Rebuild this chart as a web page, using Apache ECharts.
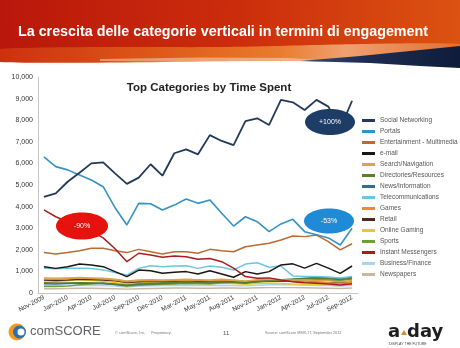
<!DOCTYPE html>
<html>
<head>
<meta charset="utf-8">
<script src="https://cdn.jsdelivr.net/npm/echarts/dist/echarts.min.js"></script>
<style>
html,body{margin:0;padding:0;background:#fff;}
#c{width:460px;height:348px;}
</style>
</head>
<body>
<div id="c"></div>
<script>
const months = ["Nov-2009","Dec-2009","Jan-2010","Mar-2010","Apr-2010","May-2010","Jul-2010","Aug-2010","Sep-2010","Oct-2010","Dec-2010","Jan-2011","Mar-2011","Apr-2011","May-2011","Jul-2011","Aug-2011","Oct-2011","Nov-2011","Dec-2011","Jan-2012","Mar-2012","Apr-2012","May-2012","Jul-2012","Aug-2012","Sep-2012"];

const socialNetworking = [4450,4610,5150,5570,6000,6050,5540,5050,5340,5960,5430,6470,6650,6420,7310,7040,6850,7960,8090,7780,8940,8830,8470,8940,8630,7600,8900];
const portals = [6300,5850,5700,5460,5230,4920,3950,3150,4150,4130,3840,4070,4350,4150,4310,3690,3100,3530,3300,2840,3200,3410,2840,2700,2550,2220,3000];
const entertainment = [1870,1810,1870,1960,2070,2070,1960,1870,2020,1910,1810,1910,1910,1840,2020,1960,1910,2140,2220,2300,2450,2640,2610,2680,2380,2000,2280];
const email = [1220,1140,1220,1340,1300,1220,990,760,1060,1030,910,960,990,880,1030,880,730,990,880,990,1300,1350,1150,1370,1150,910,1250];
const searchNavigation = [700,680,700,720,700,680,640,560,600,620,600,620,640,620,600,640,600,560,620,640,620,600,600,580,560,520,580];
const directories = [480,460,470,480,470,450,420,360,420,440,460,470,490,480,470,500,480,460,520,560,600,640,660,680,660,620,680];
const newsInformation = [430,420,440,460,450,430,400,350,410,430,440,460,480,470,460,500,500,480,540,580,620,640,680,720,700,660,740];
const telecommunications = [1150,1120,1150,1150,1130,1070,950,830,1140,1260,1220,1250,1260,1140,1250,1190,1065,1340,1400,1190,1250,790,760,760,740,700,760];
const games = [650,630,660,690,670,640,600,520,560,580,560,580,600,580,560,580,560,520,580,600,580,560,540,500,480,440,500];
const retail = [600,580,600,630,620,600,560,480,520,540,520,540,560,540,520,540,520,480,540,560,540,540,520,500,480,460,500];
const onlineGaming = [560,540,560,620,580,540,480,420,460,480,440,460,480,460,440,480,440,400,440,460,440,420,400,380,360,340,380];
const sports = [300,300,320,380,420,460,380,320,360,380,400,420,440,430,420,460,460,440,500,540,560,580,600,620,600,580,640];
const instantMessengers = [3850,3530,3300,3080,2850,2550,2050,1450,1840,1760,1650,1710,1680,1560,1600,1450,1150,760,680,700,600,520,480,450,420,370,430];
const businessFinance = [350,340,350,360,350,340,320,280,320,330,340,350,360,350,340,360,350,330,360,380,380,380,360,350,340,320,350];
const newspapers = [200,200,210,220,220,210,200,180,200,210,220,230,230,220,220,230,230,220,240,250,250,250,240,230,220,210,230];

const seriesNames = ["Social Networking","Portals","Entertainment - Multimedia","e-mail","Search/Navigation","Directories/Resources","News/Information","Telecommunications","Games","Retail","Online Gaming","Sports","Instant Messengers","Business/Finance","Newspapers"];
const seriesValues = [socialNetworking,portals,entertainment,email,searchNavigation,directories,newsInformation,telecommunications,games,retail,onlineGaming,sports,instantMessengers,businessFinance,newspapers];
const seriesColors = ["#22395a","#3592c4","#bb6a34","#1a1614","#d6a64c","#5d7d2a","#2f6e98","#6cc6e2","#e68c36","#4b2a1b","#ebc92a","#6f9e34","#a81e1e","#a9d3ec","#c9b79d"];
const seriesWidths = [1.8,1.6,1.5,1.5,1.4,1.4,1.4,1.5,1.4,1.4,1.4,1.4,1.5,1.4,1.4];

const chart = echarts.init(document.getElementById('c'));
const FONT = '"Liberation Sans", Arial, sans-serif';

const order = [14,13,11,10,9,8,6,5,4,7,3,2,12,1,0];
const series = order.map(i => ({
  name: seriesNames[i],
  type: 'line',
  data: seriesValues[i],
  showSymbol: false,
  symbol: 'none',
  color: seriesColors[i],
  lineStyle: {width: seriesWidths[i], color: seriesColors[i]},
  silent: true,
  animation: false
}));

chart.setOption({
  animation: false,
  backgroundColor: '#ffffff',
  textStyle: {fontFamily: FONT},
  title: {
    text: 'Top Categories by Time Spent',
    left: 204, top: 77, textAlign: 'center',
    textStyle: {fontSize: 11.5, fontWeight: 'bold', color: '#222', fontFamily: FONT}
  },
  grid: {left: 38, top: 77, width: 320, height: 216, containLabel: false, outerBoundsMode: 'none'},
  legend: {
    data: seriesNames,
    orient: 'vertical',
    left: 362, top: 117,
    icon: 'rect',
    itemWidth: 13, itemHeight: 3,
    itemGap: 4,
    padding: 0,
    selectedMode: false,
    textStyle: {fontSize: 6.5, color: '#555', lineHeight: 7, fontFamily: FONT}
  },
  xAxis: {
    type: 'category',
    data: months,
    boundaryGap: true,
    axisLine: {show: true, lineStyle: {color: '#c4c4c4', width: 1}},
    axisTick: {show: false},
    axisLabel: {interval: 1, rotate: 28, fontSize: 6.5, color: '#333', margin: 4, fontFamily: FONT}
  },
  yAxis: {
    type: 'value',
    min: 0, max: 10000, interval: 1000,
    name: 'Tot. Time Spent (MM Minutes)',
    nameLocation: 'middle',
    nameGap: 31,
    nameRotate: 90,
    nameTextStyle: {fontSize: 6, color: '#333', fontFamily: FONT},
    axisLine: {show: true, lineStyle: {color: '#c4c4c4', width: 1}},
    axisTick: {show: false},
    splitLine: {show: false},
    axisLabel: {
      fontSize: 7, color: '#333', margin: 5, fontFamily: FONT,
      formatter: v => v.toLocaleString('en-US')
    }
  },
  series: series,
  graphic: [
    {type: 'rect', z: 1, silent: true, shape: {x: 0, y: 0, width: 460, height: 54},
     style: {fill: new echarts.graphic.LinearGradient(0, 0, 1, 0.3, [
       {offset: 0, color: '#b9170b'}, {offset: 0.5, color: '#cb2c0c'}, {offset: 1, color: '#dc5211'}])}},
    {type: 'polygon', z: 2, silent: true,
     shape: {points: [[0,49],[230,47],[460,44],[460,60],[250,61],[0,62]], smooth: 0.2},
     style: {fill: new echarts.graphic.LinearGradient(0, 0, 1, 0, [
       {offset: 0, color: '#cc3010'}, {offset: 0.35, color: '#de5a18'}, {offset: 0.6, color: '#ea7a2c'}, {offset: 0.75, color: '#f0a070'}, {offset: 1, color: '#e07030'}])}},
    {type: 'polygon', z: 2, silent: true,
     shape: {points: [[100,59],[200,57.5],[290,58],[330,61],[200,62],[100,61]]},
     style: {fill: 'rgba(255,235,215,0.45)'}},
    {type: 'polygon', z: 3, silent: true,
     shape: {points: [[300,61],[360,56],[420,50],[460,46],[460,68],[420,66],[370,63]]},
     style: {fill: new echarts.graphic.LinearGradient(0, 0, 1, 0, [
       {offset: 0, color: '#3a4c70'}, {offset: 0.4, color: '#1d2d52'}, {offset: 1, color: '#0f1c3a'}])}},
    {type: 'text', z: 5, silent: true, left: 18, top: 25,
     style: {text: 'La crescita delle categorie verticali in termini di engagement', fill: '#ffffff',
       font: 'bold 14.3px "Liberation Sans", Arial, sans-serif'}},

    {type: 'ellipse', z: 50, silent: true, shape: {cx: 330, cy: 122, rx: 25, ry: 13},
     style: {fill: '#1d3c66'}},
    {type: 'text', z: 51, silent: true, x: 330, y: 122,
     style: {text: '+100%', fill: '#fff', align: 'center', verticalAlign: 'middle', font: '7px "Liberation Sans", Arial, sans-serif'}},
    {type: 'ellipse', z: 50, silent: true, shape: {cx: 82, cy: 226, rx: 26, ry: 13.5},
     style: {fill: '#e5120e'}},
    {type: 'text', z: 51, silent: true, x: 82, y: 226,
     style: {text: '-90%', fill: '#fff', align: 'center', verticalAlign: 'middle', font: '7px "Liberation Sans", Arial, sans-serif'}},
    {type: 'ellipse', z: 50, silent: true, shape: {cx: 329, cy: 221, rx: 25, ry: 12.5},
     style: {fill: '#1f8ad6'}},
    {type: 'text', z: 51, silent: true, x: 329, y: 221,
     style: {text: '-53%', fill: '#fff', align: 'center', verticalAlign: 'middle', font: '7px "Liberation Sans", Arial, sans-serif'}},

    {type: 'circle', z: 5, silent: true, shape: {cx: 17, cy: 332, r: 8.5}, style: {fill: '#f39a1e'}},
    {type: 'circle', z: 6, silent: true, shape: {cx: 19.5, cy: 332, r: 6.5}, style: {fill: '#2a6fb5'}},
    {type: 'circle', z: 7, silent: true, shape: {cx: 21, cy: 332, r: 3.5}, style: {fill: '#ffffff'}},
    {type: 'text', z: 5, silent: true, left: 30, top: 325,
     style: {text: 'comSCORE', fill: '#616265', font: '13px "Liberation Sans", Arial, sans-serif'}},
    {type: 'text', z: 5, silent: true, left: 115, top: 331,
     style: {text: '© comScore, Inc.     Proprietary.', fill: '#777', font: '4px "Liberation Sans", Arial, sans-serif'}},
    {type: 'text', z: 5, silent: true, left: 223, top: 330,
     style: {text: '11', fill: '#555', font: '6px "Liberation Sans", Arial, sans-serif'}},
    {type: 'text', z: 5, silent: true, left: 265, top: 331,
     style: {text: 'Source: comScore MMX, IT, September 2012', fill: '#777', font: '3.8px "Liberation Sans", Arial, sans-serif'}},

    {type: 'text', z: 5, silent: true, left: 388, top: 323,
     style: {text: 'a', fill: '#1e1e1e', font: 'bold 18px "DejaVu Sans", sans-serif'}},
    {type: 'polygon', z: 5, silent: true,
     shape: {points: [[401,335],[404,330],[407,335]]}, style: {fill: '#d98a2b'}},
    {type: 'text', z: 5, silent: true, left: 407, top: 323,
     style: {text: 'day', fill: '#1e1e1e', font: 'bold 18px "DejaVu Sans", sans-serif'}},
    {type: 'text', z: 5, silent: true, left: 389, top: 342,
     style: {text: 'DISPLAY THE FUTURE', fill: '#444', font: '3.5px "Liberation Sans", Arial, sans-serif'}}
  ]
});
</script>
</body>
</html>
